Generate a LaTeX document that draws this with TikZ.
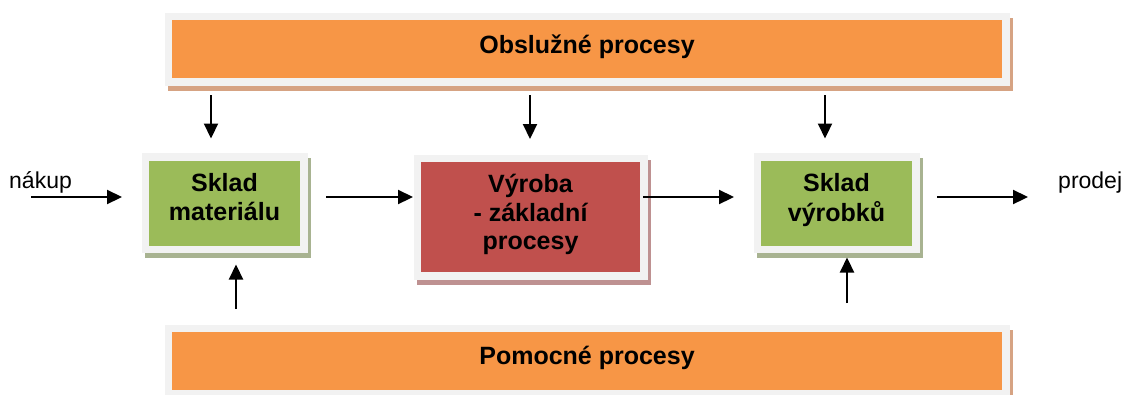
\documentclass[tikz,border=0pt]{standalone}
\usepackage{fontspec}
\setmainfont{Liberation Sans}
\usetikzlibrary{arrows.meta,backgrounds}

\definecolor{procorange}{HTML}{F79646}
\definecolor{procgreen}{HTML}{9BBB59}
\definecolor{procred}{HTML}{C0504D}
\definecolor{framegray}{HTML}{F2F2F2}
\definecolor{shadeorange}{HTML}{D6A383}
\definecolor{shadegreen}{HTML}{A8B391}
\definecolor{shadered}{HTML}{BE9191}

% light frame around a box, with a drop shadow to the lower right
\newcommand\procframe[2]{%
  \fill[#2] ([shift={(-4.5pt,-12.5pt)}]#1.south west) rectangle ([shift={(10.5pt,2.5pt)}]#1.north east);
  \fill[framegray] ([shift={(-7.5pt,-7.5pt)}]#1.south west) rectangle ([shift={(7.5pt,7.5pt)}]#1.north east);
}

\tikzset{
  procbox/.style={rectangle, inner sep=0pt, outer sep=0pt},
  proctext/.style={anchor=north, inner sep=0pt, align=center, text=black,
    font=\bfseries\fontsize{25}{28.5}\selectfont},
  arr/.style={line width=2.2pt, -{Triangle[length=15pt,width=14pt]}},
  sidelabel/.style={font=\fontsize{23}{26}\selectfont, inner sep=0pt, anchor=base west},
}

\begin{document}
\begin{tikzpicture}[x=1pt,y=-1pt]
  \useasboundingbox (0,0) rectangle (1123,394);
  \clip (0,0) rectangle (1123,394);

  % process bars and stores
  \node[procbox, fill=procorange, minimum width=830pt, minimum height=58pt] (obsl) at (587,49) {};
  \node[procbox, fill=procorange, minimum width=830pt, minimum height=58pt] (pomoc) at (587,361) {};
  \node[procbox, fill=procgreen, minimum width=151pt, minimum height=85pt] (skladmat) at (224.5,203) {};
  \node[procbox, fill=procred, minimum width=219pt, minimum height=110pt] (vyroba) at (530.5,217) {};
  \node[procbox, fill=procgreen, minimum width=151pt, minimum height=85pt] (skladvyr) at (836.5,203) {};

  \begin{scope}[on background layer]
    \procframe{obsl}{shadeorange}
    \procframe{pomoc}{shadeorange}
    \procframe{skladmat}{shadegreen}
    \procframe{vyroba}{shadered}
    \procframe{skladvyr}{shadegreen}
  \end{scope}

  % box captions, set from the top edge of each box
  \node[proctext] (obsl-t) at ([yshift=-13pt]obsl.north) {\strut Obslužné procesy};
  \node[proctext] (pomoc-t) at ([yshift=-12.5pt]pomoc.north) {\strut Pomocné procesy};
  \node[proctext] (skladmat-t) at ([yshift=-11pt]skladmat.north) {\strut Sklad\\materiálu};
  \node[proctext] (vyroba-t) at ([yshift=-10.5pt]vyroba.north) {\strut Výroba\\- základní\\procesy};
  \node[proctext] (skladvyr-t) at ([yshift=-11pt]skladvyr.north) {\strut Sklad\\výrobků};

  % side labels
  \node[sidelabel] (nakup) at (9,188) {nákup};
  \node[sidelabel] (prodej) at (1058,188) {prodej};

  % reference points for the connectors
  \coordinate (inL) at (31,197);
  \coordinate (outR) at (1028,197);
  \coordinate (xa) at (211,0);
  \coordinate (xb) at (530,0);
  \coordinate (xc) at (825,0);
  \coordinate (xd) at (236,0);
  \coordinate (xe) at (847,0);

  % main flow
  \draw[arr, shorten >=27pt] (inL) -- (inL -| skladmat.west);
  \draw[arr, shorten <=26pt, shorten >=8pt] (inL -| skladmat.east) -- (inL -| vyroba.west);
  \draw[arr, shorten <=3pt, shorten >=27pt] (inL -| vyroba.east) -- (inL -| skladvyr.west);
  \draw[arr, shorten <=25pt] (inL -| skladvyr.east) -- (outR);

  % service processes feeding down
  \draw[arr, shorten <=17pt, shorten >=22pt] (obsl.south -| xa) -- (skladmat.north -| xa);
  \draw[arr, shorten <=17pt, shorten >=23pt] (obsl.south -| xb) -- (vyroba.north -| xb);
  \draw[arr, shorten <=17pt, shorten >=22pt] (obsl.south -| xc) -- (skladvyr.north -| xc);

  % auxiliary processes feeding up
  \draw[arr, shorten <=23pt, shorten >=19pt] (pomoc.north -| xd) -- (skladmat.south -| xd);
  \draw[arr, shorten <=29pt, shorten >=12pt] (pomoc.north -| xe) -- (skladvyr.south -| xe);
\end{tikzpicture}
\end{document}
